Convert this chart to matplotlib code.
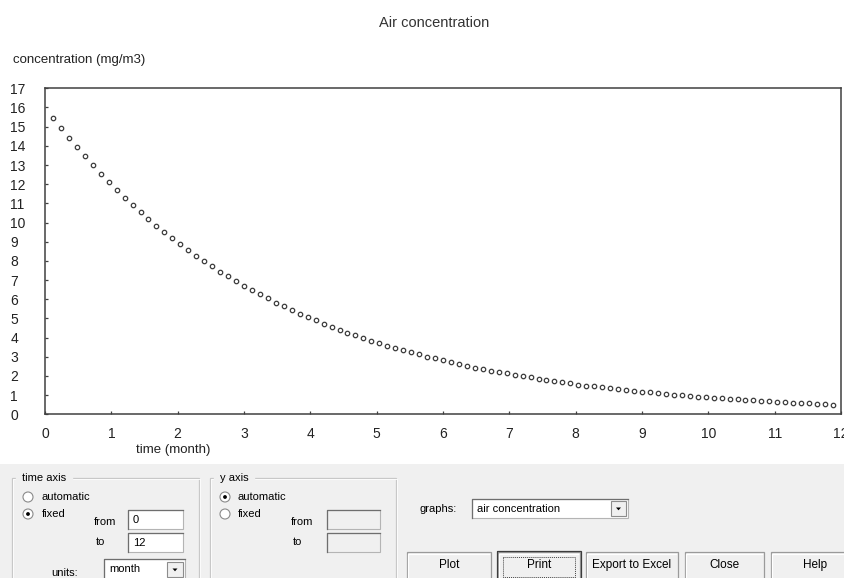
"""
Air concentration - recreated screenshot of the plot window
"""

import matplotlib.pyplot as plt
import numpy as np
from matplotlib.patches import Rectangle, Circle, Polygon

# data (step 0.12 month)
times = np.round(np.arange(1, 100) * 0.12, 2)
conc = [15.45, 14.92, 14.41, 13.92, 13.45, 12.99, 12.54, 12.11, 11.70, 11.30,
        10.91, 10.54, 10.18, 9.83, 9.49, 9.17, 8.86, 8.55, 8.26, 7.98,
        7.71, 7.44, 7.19, 6.94, 6.70, 6.47, 6.25, 6.04, 5.83, 5.63,
        5.44, 5.25, 5.08, 4.90, 4.73, 4.57, 4.42, 4.26, 4.12, 3.98,
        3.84, 3.71, 3.58, 3.46, 3.34, 3.23, 3.12, 3.01, 2.91, 2.81,
        2.71, 2.62, 2.53, 2.44, 2.36, 2.28, 2.20, 2.13, 2.05, 1.98,
        1.92, 1.85, 1.79, 1.73, 1.67, 1.61, 1.55, 1.50, 1.45, 1.40,
        1.35, 1.31, 1.26, 1.22, 1.18, 1.14, 1.10, 1.06, 1.02, 0.99,
        0.96, 0.92, 0.89, 0.86, 0.83, 0.80, 0.78, 0.75, 0.72, 0.70,
        0.67, 0.65, 0.63, 0.61, 0.59, 0.57, 0.55, 0.53, 0.51]
x_ticks = list(range(0, 13))
y_ticks = list(range(0, 18))

NARROW = ['Liberation Sans Narrow', 'Liberation Sans', 'DejaVu Sans']
SANS = ['Liberation Sans', 'DejaVu Sans']
plt.rcParams['font.family'] = SANS

W, H = 845, 578
fig = plt.figure(figsize=(W / 100, H / 100), dpi=100)
fig.patch.set_facecolor('white')

# background layer in pixel coordinates for the window controls
bg = fig.add_axes([0, 0, 1, 1])
bg.set_xlim(0, W)
bg.set_ylim(H, 0)
bg.axis('off')

# plot area
ax = fig.add_axes([45 / W, 1 - 414.3 / H, 796 / W, 326 / H])
ax.plot(times, conc, linestyle='none', marker='o', markersize=3.2,
        markerfacecolor='white', markeredgecolor='#3c3c3c', markeredgewidth=0.9)
ax.set_xlim(0, 12)
ax.set_ylim(0, 17)
ax.set_xticks(x_ticks)
ax.set_yticks(y_ticks)
for s in ax.spines.values():
    s.set_color('#404040')
    s.set_linewidth(1.1)
ax.tick_params(axis='both', direction='in', length=2.5, width=0.9, color='#404040',
               labelsize=10, labelcolor='#222222')
ax.tick_params(axis='x', pad=9)
ax.tick_params(axis='y', pad=25)
for lab in ax.get_yticklabels():
    lab.set_horizontalalignment('left')
    lab.set_family(NARROW)
for lab in ax.get_xticklabels():
    lab.set_family(NARROW)

# titles
bg.text(434, 23, 'Air concentration', ha='center', va='center', fontsize=10.5,
        color='#333333')
bg.text(13, 60, 'concentration (mg/m3)', ha='left', va='center', fontsize=9.5,
        color='#222222')
bg.text(173, 450, 'time (month)', ha='center', va='center', fontsize=9.5,
        color='#222222')

# ---- control panel ----
PANEL = '#f0f0f0'
bg.add_patch(Rectangle((0, 464), W, H - 464, facecolor=PANEL, edgecolor='none'))

def txt(x, y, s, **kw):
    bg.text(x, y, s, ha=kw.pop('ha', 'left'), va='center', fontsize=kw.pop('fs', 8),
            family=NARROW, color='black', **kw)

def group(x0, x1, y0, label):
    bg.add_patch(Rectangle((x0, y0), x1 - x0, 120, facecolor='none',
                           edgecolor='#c8c8c8', linewidth=0.9))
    bg.add_patch(Rectangle((x0 + 1, y0 + 1), x1 - x0, 120, facecolor='none',
                           edgecolor='white', linewidth=0.6))
    txt(x0 + 10, y0, label, backgroundcolor=PANEL)

def radio(x, y, checked):
    bg.add_patch(Circle((x, y), 5, facecolor='white', edgecolor='#8a8a8a', linewidth=0.8))
    if checked:
        bg.add_patch(Circle((x, y), 1.9, facecolor='black', edgecolor='none'))

def field(x0, y0, x1, y1, fill='white', text=None):
    bg.add_patch(Rectangle((x0, y0), x1 - x0, y1 - y0, facecolor=fill,
                           edgecolor='#b4b4b4', linewidth=0.8))
    bg.plot([x0, x0, x1], [y1, y0, y0], color='#6e6e6e', linewidth=0.9)
    if text:
        txt(x0 + 5, (y0 + y1) / 2 + 0.5, text)

def drop_button(x0, y0, x1, y1):
    bg.add_patch(Rectangle((x0, y0), x1 - x0, y1 - y0, facecolor=PANEL,
                           edgecolor='#8c8c8c', linewidth=0.8))
    cx, cy = (x0 + x1) / 2, (y0 + y1) / 2
    bg.add_patch(Polygon([(cx - 2.5, cy - 1), (cx + 2.5, cy - 1), (cx, cy + 1.8)],
                         closed=True, facecolor='black', edgecolor='none'))

def button(x0, x1, label, focus=False):
    y0, y1 = 552, 600
    bg.add_patch(Rectangle((x0, y0), x1 - x0, y1 - y0, facecolor=PANEL,
                           edgecolor='#9a9a9a', linewidth=0.9))
    bg.plot([x0 + 1.5, x0 + 1.5, x1 - 1.5], [y1, y0 + 1.5, y0 + 1.5],
            color='white', linewidth=0.9)
    if focus:
        bg.add_patch(Rectangle((x0 - 1, y0 - 1), x1 - x0 + 2, y1 - y0, facecolor='none',
                               edgecolor='#3c3c3c', linewidth=0.9))
        bg.add_patch(Rectangle((x0 + 5, y0 + 5), x1 - x0 - 10, 20, facecolor='none',
                               edgecolor='#444444', linewidth=0.7, linestyle=(0, (1, 1))))
    txt((x0 + x1) / 2, 565, label, ha='center', fs=8.5)

# time axis group
group(12, 199, 478, 'time axis')
radio(28, 497, False)
txt(42, 497, 'automatic')
radio(28, 514, True)
txt(42, 514, 'fixed')
txt(94, 522, 'from')
field(128, 510, 183, 529, text='0')
txt(96, 542, 'to')
field(128, 533, 183, 552, text='12')
txt(51, 573, 'units:')
field(104, 559, 185, 590, text=None)
txt(109, 569, 'month')
drop_button(167, 562, 183, 577)

# y axis group
group(210, 396, 478, 'y axis')
radio(225, 497, True)
txt(238, 497, 'automatic')
radio(225, 514, False)
txt(238, 514, 'fixed')
txt(291, 522, 'from')
field(327, 510, 380, 529, fill=PANEL)
txt(293, 542, 'to')
field(327, 533, 380, 552, fill=PANEL)

# graph selector
txt(420, 509, 'graphs:')
field(472, 499, 628, 518, text='air concentration')
drop_button(611, 501, 626, 516)

# buttons
button(407, 491, 'Plot')
button(498, 580, 'Print', focus=True)
button(586, 678, 'Export to Excel')
button(685, 764, 'Close')
button(771, 860, 'Help')

fig.savefig('out.png', dpi=100, facecolor='white')
